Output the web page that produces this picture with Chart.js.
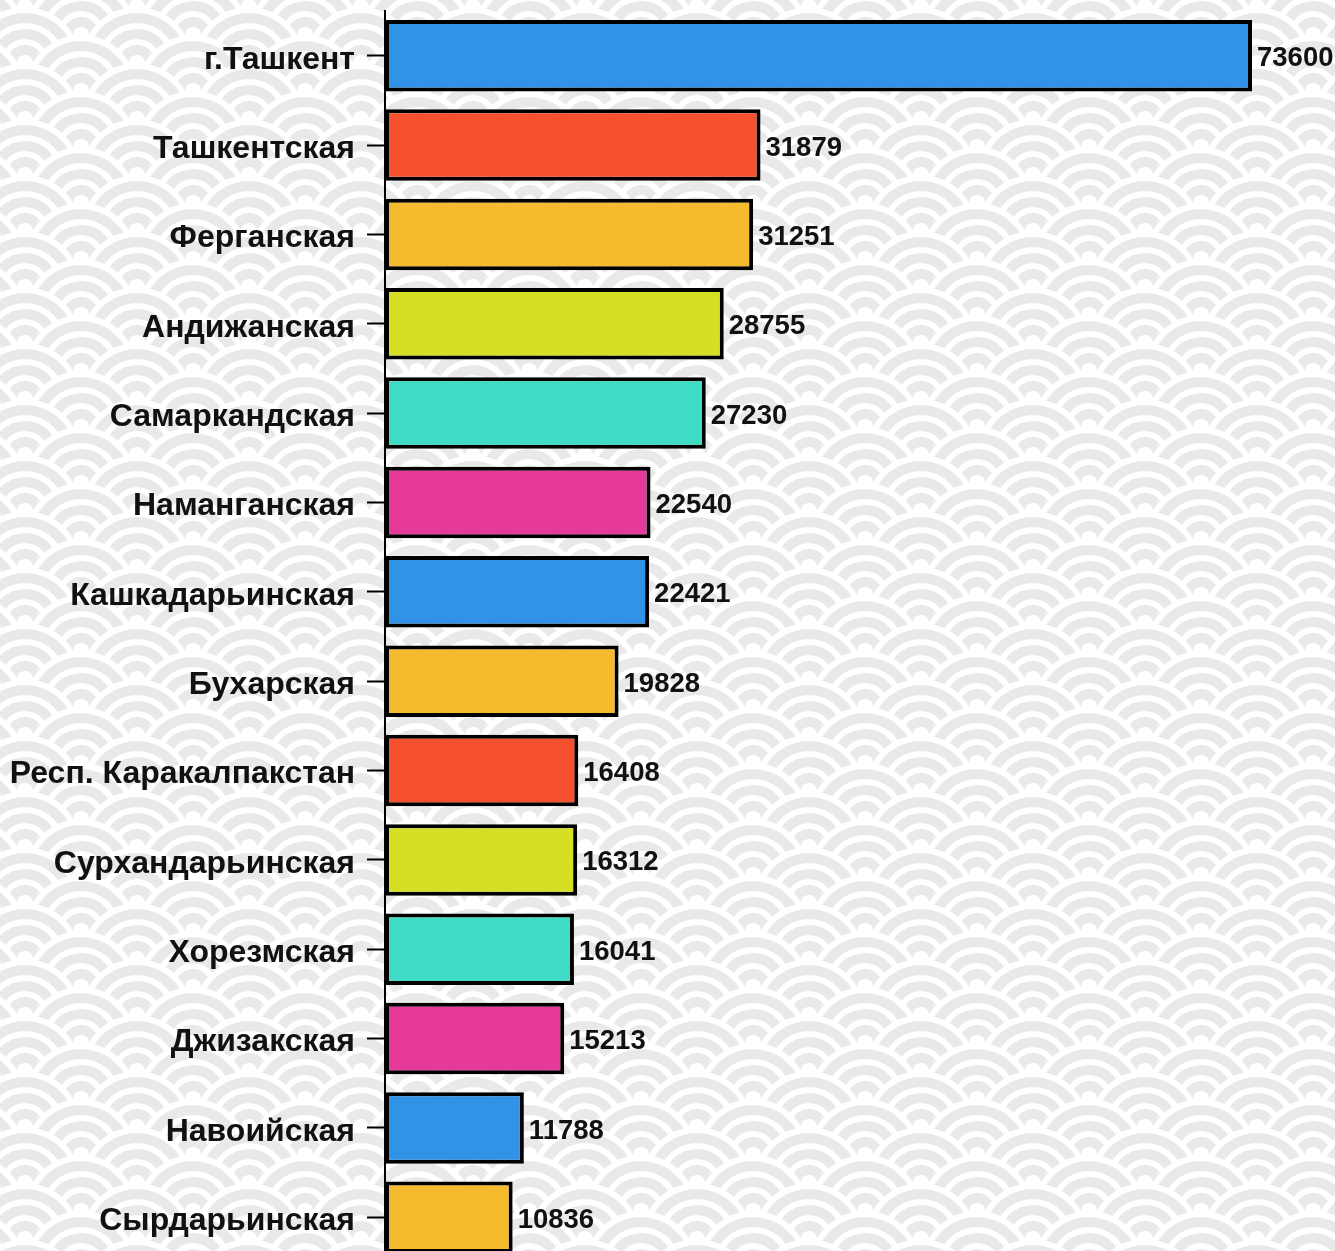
<!DOCTYPE html>
<html>
<head>
<meta charset="utf-8">
<script src="https://cdn.jsdelivr.net/npm/chart.js@4"></script>
<style>
  html, body { margin: 0; padding: 0; overflow: hidden; background: #fff; }
  #wrap { width: 1335px; height: 1262px; }
</style>
</head>
<body>
<div id="wrap"><canvas id="regionsChart"></canvas></div>
<script>
// Данные по регионам
const regions = ['г.Ташкент', 'Ташкентская', 'Ферганская', 'Андижанская', 'Самаркандская',
    'Наманганская', 'Кашкадарьинская', 'Бухарская', 'Респ. Каракалпакстан', 'Сурхандарьинская',
    'Хорезмская', 'Джизакская', 'Навоийская', 'Сырдарьинская'];
const values = [73600, 31879, 31251, 28755, 27230, 22540, 22421, 19828, 16408, 16312, 16041, 15213, 11788, 10836];
const barColors = ['#3093e8', '#f7502f', '#f6ba2e', '#d7df22', '#3edcc4', '#e53a9a', '#3093e8',
    '#f6ba2e', '#f7502f', '#d7df22', '#3edcc4', '#e53a9a', '#3093e8', '#f6ba2e'];

// Фон "сейгайха" (волны): рисуем ряды кругов сверху вниз
const seigaihaBg = {
    id: 'seigaihaBg',
    beforeDraw(chart) {
        const ctx = chart.ctx;
        const w = chart.width, h = chart.height;
        const R = 56;
        // границы колец: белый / серый по очереди, от края к центру
        const rings = [56, 50, 40, 34, 24, 18, 8];
        ctx.save();
        ctx.fillStyle = '#fff';
        ctx.fillRect(0, 0, w, h);
        for (let j = -2; 7 + 28 * j < h + R; j++) {
            const y = 7 + 28 * j;
            const x0 = (j % 2 === 0) ? 25 : 81;
            for (let x = x0 - 112; x < w + R; x += 112) {
                rings.forEach((r, k) => {
                    ctx.beginPath();
                    ctx.arc(x, y, r, 0, Math.PI * 2);
                    ctx.fillStyle = (k % 2 === 0) ? '#fff' : '#e9e9e9';
                    ctx.fill();
                });
            }
        }
        ctx.restore();
    }
};

// Подписи значений справа от столбцов
const valueLabels = {
    id: 'valueLabels',
    afterDatasetsDraw(chart) {
        const ctx = chart.ctx;
        const meta = chart.getDatasetMeta(0);
        ctx.save();
        ctx.font = 'bold 27.5px "Liberation Sans", Arial, sans-serif';
        ctx.fillStyle = '#111';
        ctx.textAlign = 'left';
        ctx.textBaseline = 'middle';
        meta.data.forEach((bar, i) => {
            ctx.fillText(String(values[i]), bar.x + 5, bar.y + 3);
        });
        ctx.restore();
    }
};

new Chart(document.getElementById('regionsChart'), {
    type: 'bar',
    data: {
        labels: regions,
        datasets: [{
            data: values,
            backgroundColor: barColors,
            borderColor: '#000',
            borderWidth: 4,
            borderSkipped: false,
            barPercentage: 0.8,
            categoryPercentage: 1
        }]
    },
    options: {
        indexAxis: 'y',
        responsive: true,
        maintainAspectRatio: false,
        animation: false,
        layout: { padding: { top: 11, right: 83, bottom: 0, left: 0 } },
        plugins: {
            legend: { display: false },
            tooltip: { enabled: false }
        },
        scales: {
            x: {
                display: false,
                min: 0,
                max: 73600
            },
            y: {
                afterFit: s => {
                    s.width = 385;
                    s.paddingTop = 0;
                    s.paddingBottom = 0;
                },
                border: { display: true, color: '#000', width: 2 },
                grid: {
                    offset: false,
                    drawOnChartArea: false,
                    drawTicks: true,
                    tickLength: 18,
                    tickWidth: 2,
                    tickColor: '#000'
                },
                ticks: {
                    padding: 12,
                    labelOffset: 4,
                    color: '#111',
                    font: { family: '"Liberation Sans", Arial, sans-serif', size: 32, weight: 'bold' }
                }
            }
        }
    },
    plugins: [seigaihaBg, valueLabels]
});
</script>
</body>
</html>
